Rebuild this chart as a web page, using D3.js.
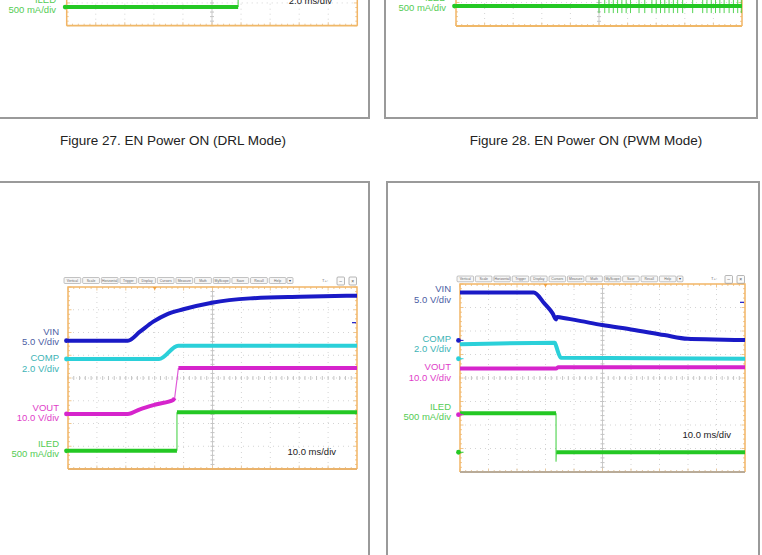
<!DOCTYPE html>
<html>
<head>
<meta charset="utf-8">
<script src="https://cdn.jsdelivr.net/npm/d3@7"></script>
<style>
body { margin: 0; background: #fff; }
svg { display: block; font-family: "Liberation Sans", Arial, sans-serif; }
</style>
</head>
<body>
<svg id="page" width="762" height="555"></svg>
<script>
// Figure 27, DRL mode (only the bottom of the shot is on the page), 2.0 ms/div
const drlTime = [0, 11.8, 11.8, 20];
const drlIled = [0, 0, 850, 850];            // mA

// Figure 28, PWM mode, 2.0 ms/div
const pwmTime = [0, 20];
const pwmIled = [0, 0];                      // mA
const pwmPulses = [10.0, 10.4, 10.7, 11.0, 11.3, 11.6, 11.9, 12.2, 12.8, 13.2,
  13.7, 14.0, 14.3, 14.6, 14.9, 15.2, 15.5, 15.85, 16.55, 17.25, 17.55, 17.85,
  18.15, 18.45, 18.75, 19.1, 19.4, 19.7, 19.95];   // ms

// lower left shot, 10.0 ms/div
const riseVinT = [0, 20.7, 24.9, 29.5, 34.2, 39.9, 49.8, 63.0, 80.3, 100];
const riseVin = [0, 0, 1.98, 4.18, 5.8, 6.9, 8.35, 9.3, 9.67, 9.89];   // V
const riseCompT = [0, 31.5, 38.1, 100];
const riseComp = [0, 0, 1.17, 1.17];                                    // V
const riseVoutT = [0, 20.7, 24.9, 30.7, 36.4, 36.9, 38.2, 100];
const riseVout = [0, 0, 2.05, 4.25, 6.15, 7.0, 20.2, 20.2];             // V
const riseIledT = [0, 37.7, 37.7, 100];
const riseIled = [0, 0, 850, 850];                                      // mA

// lower right shot, 10.0 ms/div
const fallVinT = [0, 25.9, 29.6, 32.5, 33.7, 34.0, 35.4, 42.5, 49.9, 60, 71.7, 79.9, 89.2, 100];
const fallVin = [10.2, 10.2, 7.87, 5.74, 4.47, 5.0, 4.89, 4.1, 3.26, 2.34, 1.13, 0.34, 0.21, 0.06];
const fallCompT = [0, 33.3, 33.7, 35.4, 100];
const fallComp = [1.23, 1.36, 1.1, 0.09, 0];
const fallVoutT = [0, 33.7, 34.5, 100];
const fallVout = [19.6, 19.6, 20.2, 20.2];
const fallIledT = [0, 33.7, 33.7, 33.8, 100];
const fallIled = [830, 830, -190, 0, 0];

const chNames = ["VIN", "COMP", "VOUT", "ILED"];
const chPerDiv = [5, 2, 10, 500];
const chDivText = ["5.0 V/div", "2.0 V/div", "10.0 V/div", "500 mA/div"];
const menuLabels = ["Vertical", "Scale", "Horizontal", "Trigger", "Display", "Cursors",
  "Measure", "Math", "MyScope", "Save", "Recall", "Help"];
const captions = ["Figure 27. EN Power ON (DRL Mode)", "Figure 28. EN Power ON (PWM Mode)"];

const traceColor = {VIN: "#1a1ac6", COMP: "#2bd0d9", VOUT: "#d624cc", ILED: "#24c824"};
const textColor = {VIN: "#4c5ea4", COMP: "#3db4b6", VOUT: "#e03ec9", ILED: "#55cc55"};

const svg = d3.select("#page");

// page frames around the shots
const frames = [[-5, -5, 369, 118], [385, -5, 757, 118], [-5, 182, 369, 600], [387, 182, 759, 600]];
svg.selectAll(".frame").data(frames).join("rect")
  .attr("x", d => d[0]).attr("y", d => d[1])
  .attr("width", d => d[2] - d[0]).attr("height", d => d[3] - d[1])
  .attr("fill", "none").attr("stroke", "#9a9a9a").attr("stroke-width", 2);

svg.selectAll(".cap").data(captions).join("text")
  .attr("x", (d, i) => [173, 586][i]).attr("y", 145)
  .attr("text-anchor", "middle").attr("font-size", 13.5).attr("fill", "#222")
  .text(d => d);

const panels = [
  {plot: [66.7, -156.3, 357.3, 25.7], msDiv: 2, bottom: "#f0b868",
   traces: [{ch: 3, t: drlTime, v: drlIled, gnd: -3.18}],
   labels: {x: 56, rows: [[3, 2.7, 13.3]]},
   timeText: {text: "2.0 ms/div", x: 332, y: 4}},
  {plot: [456, -162, 742, 26], msDiv: 2, bottom: "#f0b868",
   traces: [{ch: 3, t: pwmTime, v: pwmIled, gnd: -3.15, pulses: pwmPulses}],
   labels: {x: 446, rows: [[3, 0.5, 11]]}},
  {plot: [68, 287, 357, 469], msDiv: 10, bottom: "#eab36c", trig: 30, level: [0, 3.96],
   traces: [
     {ch: 3, t: riseIledT, v: riseIled, gnd: -3.2},
     {ch: 2, t: riseVoutT, v: riseVout, gnd: -1.58},
     {ch: 1, t: riseCompT, v: riseComp, gnd: 0.835},
     {ch: 0, t: riseVinT, v: riseVin, gnd: 1.64}],
   labels: {x: 59, rows: [[0, 335, 345], [1, 360.7, 371.7], [2, 410.7, 421.3], [3, 446.7, 456.7]]},
   timeText: {text: "10.0 ms/div", x: 336, y: 455},
   menu: {x0: 64, x1: 286, y: 277.5, h: 6, tx: 325, boxes: [337, 349]}},
  {plot: [460, 284, 745, 472], msDiv: 10, bottom: "#b9ab98", trig: 30, level: [0, 8.1],
   traces: [
     {ch: 3, t: fallIledT, v: fallIled, gnd: -3.16},
     {ch: 2, t: fallVoutT, v: fallVout, gnd: -1.56},
     {ch: 1, t: fallCompT, v: fallComp, gnd: 0.82},
     {ch: 0, t: fallVinT, v: fallVin, gnd: 1.6}],
   labels: {x: 451, rows: [[0, 292.3, 302.7], [1, 341.7, 352.3], [2, 370, 380.7], [3, 410, 420]]},
   timeText: {text: "10.0 ms/div", x: 731, y: 437.7},
   menu: {x0: 457, x1: 676, y: 276, h: 5.8, tx: 714, boxes: [725, 737]}}
];

// split a trace into thick runs and thin (steep edge) runs
function runs(pts) {
  const out = [];
  let cur = null;
  for (let i = 1; i < pts.length; i++) {
    const a = pts[i - 1], b = pts[i];
    const w = Math.abs(b[1] - a[1]) > 4 * Math.abs(b[0] - a[0]) ? 1.2 : 4;
    if (!cur || cur.w !== w) { cur = {w: w, pts: [a]}; out.push(cur); }
    cur.pts.push(b);
  }
  return out;
}

function drawScope(p) {
  const [x0, y0, x1, y1] = p.plot;
  const g = svg.append("g");
  const x = d3.scaleLinear().domain([0, 10 * p.msDiv]).range([x0, x1]);
  const y = d3.scaleLinear().domain([-4, 4]).range([y1, y0]);
  const divW = (x1 - x0) / 10;

  g.append("rect").attr("x", x0).attr("y", y0).attr("width", x1 - x0).attr("height", y1 - y0)
    .attr("fill", "#fff");

  // dotted graticule
  g.selectAll(".gx").data(d3.range(1, 10).filter(d => d !== 5)).join("line")
    .attr("x1", d => x0 + d * divW).attr("x2", d => x0 + d * divW)
    .attr("y1", y0).attr("y2", y1)
    .attr("stroke", "#d4d4d4").attr("stroke-dasharray", "1,4");
  g.selectAll(".gy").data(d3.range(-3, 4).filter(d => d !== 0)).join("line")
    .attr("x1", x0).attr("x2", x1).attr("y1", d => y(d)).attr("y2", d => y(d))
    .attr("stroke", "#d4d4d4").attr("stroke-dasharray", "1,4");

  // centre cross with minor ticks
  const xc = x0 + 5 * divW, yc = y(0);
  g.append("line").attr("x1", xc).attr("x2", xc).attr("y1", y0).attr("y2", y1)
    .attr("stroke", "#c9c9c9");
  g.append("line").attr("x1", x0).attr("x2", x1).attr("y1", yc).attr("y2", yc)
    .attr("stroke", "#cfcfcf").attr("stroke-dasharray", "1,3");
  const mx = d3.range(0, 50).map(i => x0 + i * divW / 5);
  const my = d3.range(-20, 21).map(i => y(i / 5));
  g.selectAll(".tcx").data(mx).join("line")
    .attr("x1", d => d).attr("x2", d => d).attr("y1", yc - 2).attr("y2", yc + 2)
    .attr("stroke", "#c4c4c4");
  g.selectAll(".tcy").data(my).join("line")
    .attr("x1", xc - 2).attr("x2", xc + 2).attr("y1", d => d).attr("y2", d => d)
    .attr("stroke", "#c4c4c4");

  // edge ticks
  g.selectAll(".tb").data(mx).join("line")
    .attr("x1", d => d).attr("x2", d => d).attr("y1", y1).attr("y2", (d, i) => y1 - (i % 5 ? 2 : 3.5))
    .attr("stroke", "#e8c9a0");
  g.selectAll(".tt").data(mx).join("line")
    .attr("x1", d => d).attr("x2", d => d).attr("y1", y0).attr("y2", (d, i) => y0 + (i % 5 ? 2 : 3.5))
    .attr("stroke", "#f0c890");
  g.selectAll(".tl").data(my).join("line")
    .attr("x1", x0).attr("x2", (d, i) => x0 + (i % 5 ? 2 : 3.5)).attr("y1", d => d).attr("y2", d => d)
    .attr("stroke", "#f0c890");
  g.selectAll(".tr").data(my).join("line")
    .attr("x1", x1).attr("x2", (d, i) => x1 - (i % 5 ? 2 : 3.5)).attr("y1", d => d).attr("y2", d => d)
    .attr("stroke", "#f0c890");

  // border
  g.append("path").attr("d", `M${x0},${y1}V${y0}H${x1}V${y1}`)
    .attr("fill", "none").attr("stroke", "#f2b566").attr("stroke-width", 1.5);
  g.append("line").attr("x1", x0).attr("x2", x1).attr("y1", y1).attr("y2", y1)
    .attr("stroke", p.bottom).attr("stroke-width", 1.8);

  // traces
  const thin = d3.line();
  const smooth = d3.line().curve(d3.curveMonotoneX);
  p.traces.forEach(tr => {
    const name = chNames[tr.ch], per = chPerDiv[tr.ch], col = traceColor[name];
    const yv = v => y(v / per + tr.gnd);
    if (tr.pulses) {
      g.selectAll(null).data(tr.pulses).join("line")
        .attr("x1", d => x(d)).attr("x2", d => x(d))
        .attr("y1", yv(-150)).attr("y2", yv(1500))
        .attr("stroke", col).attr("stroke-width", 0.9).attr("opacity", 0.85);
    }
    const pts = tr.t.map((t, i) => [x(t), yv(tr.v[i])]);
    const rs = runs(pts).sort((a, b) => a.w - b.w);
    rs.forEach(r => {
      g.append("path").attr("d", (r.w < 2 ? thin : smooth)(r.pts))
        .attr("fill", "none").attr("stroke", col).attr("stroke-width", r.w)
        .attr("stroke-linejoin", "round").attr("opacity", r.w < 2 ? 0.75 : 1);
    });
    // ground marker
    const gy = yv(0);
    g.append("line").attr("x1", x0 - 1.5).attr("x2", x0 + 3.5).attr("y1", gy).attr("y2", gy)
      .attr("stroke", col).attr("stroke-width", 1);
    g.append("circle").attr("cx", x0 - 1.5).attr("cy", gy).attr("r", 2.4).attr("fill", col);
  });

  // trigger position and level
  if (p.trig !== undefined) {
    const tx = x(p.trig);
    g.append("path").attr("d", `M${tx - 2},${y0}L${tx + 2},${y0}L${tx},${y0 + 3}Z`)
      .attr("fill", "#f0a040");
    const ly = y(p.level[1] / chPerDiv[p.level[0]] + p.traces.find(t => t.ch === p.level[0]).gnd);
    g.append("line").attr("x1", x1 - 5).attr("x2", x1 - 1).attr("y1", ly).attr("y2", ly)
      .attr("stroke", traceColor.VIN).attr("stroke-width", 1.2);
  }

  // channel labels
  p.labels.rows.forEach(r => {
    const name = chNames[r[0]];
    g.append("text").attr("x", p.labels.x).attr("y", r[1]).attr("text-anchor", "end")
      .attr("font-size", 9.5).attr("fill", textColor[name]).text(name);
    g.append("text").attr("x", p.labels.x).attr("y", r[2]).attr("text-anchor", "end")
      .attr("font-size", 9.5).attr("fill", textColor[name]).text(chDivText[r[0]]);
  });

  if (p.timeText) {
    g.append("text").attr("x", p.timeText.x).attr("y", p.timeText.y).attr("text-anchor", "end")
      .attr("font-size", 9.5).attr("fill", "#222").text(p.timeText.text);
  }

  // scope menu bar
  if (p.menu) {
    const m = p.menu;
    const band = d3.scaleBand().domain(menuLabels).range([m.x0, m.x1]).paddingInner(0.1);
    const b = g.selectAll(".mb").data(menuLabels).join("g");
    b.append("rect").attr("x", d => band(d)).attr("y", m.y)
      .attr("width", band.bandwidth()).attr("height", m.h).attr("rx", 1)
      .attr("fill", "#f6f6f6").attr("stroke", "#8a8a8a").attr("stroke-width", 0.5);
    b.append("text").attr("x", d => band(d) + band.bandwidth() / 2).attr("y", m.y + m.h / 2 + 1.2)
      .attr("text-anchor", "middle").attr("font-size", 3.4).attr("fill", "#666").text(d => d);
    g.append("rect").attr("x", m.x1 + 1).attr("y", m.y).attr("width", 6).attr("height", m.h)
      .attr("rx", 1).attr("fill", "#f6f6f6").attr("stroke", "#8a8a8a").attr("stroke-width", 0.5);
    g.append("text").attr("x", m.x1 + 4).attr("y", m.y + m.h / 2 + 1.2).attr("text-anchor", "middle")
      .attr("font-size", 3.6).attr("fill", "#444").text("▾");
    g.append("text").attr("x", m.tx).attr("y", m.y + m.h / 2 + 1.5).attr("text-anchor", "middle")
      .attr("font-size", 4.2).attr("fill", "#777").text("T+:");
    m.boxes.forEach((bx, i) => {
      g.append("rect").attr("x", bx).attr("y", m.y - 0.5).attr("width", 7.5).attr("height", m.h + 2)
        .attr("rx", 1).attr("fill", "#fafafa").attr("stroke", "#888").attr("stroke-width", 0.6);
      g.append("text").attr("x", bx + 3.75).attr("y", m.y + m.h / 2 + 2).attr("text-anchor", "middle")
        .attr("font-size", 5).attr("fill", "#555").text(i ? "×" : "–");
    });
  }
}

panels.forEach(drawScope);
</script>
</body>
</html>
